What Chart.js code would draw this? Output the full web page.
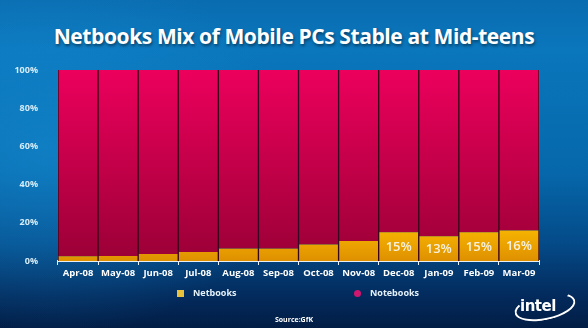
<!DOCTYPE html>
<html lang="en">
<head>
  <meta charset="UTF-8">
  <title>Netbooks Mix of Mobile PCs</title>
  <script src="https://cdn.jsdelivr.net/npm/chart.js"></script>
  <style>
    html, body {
      margin: 0;
      width: 588px;
      height: 328px;
      overflow: hidden;
    }
    body {
      position: relative;
      font-family: "Open Sans", Arial, sans-serif;
      background:
        radial-gradient(ellipse 240px 190px at 8% 45%, rgba(25,145,215,0.5), rgba(25,145,215,0) 100%),
        linear-gradient(to bottom, #0a6cb0 0%, #0a76bc 15%, #0668ab 52%, #044b89 74%, #032b5d 90%, #021d45 100%);
    }
    #title {
      position: absolute;
      top: 22px;
      left: 0;
      width: 588px;
      text-align: center;
      color: #fff;
      font-size: 21px;
      font-weight: bold;
      letter-spacing: -0.4px;
      text-shadow: 1px 2px 3px rgba(0,0,0,0.45);
    }
    #chartBox {
      position: absolute;
      left: 0;
      top: 0;
      width: 588px;
      height: 328px;
    }
    .legend {
      position: absolute;
      top: 286px;
      color: #e6f2fa;
      font-size: 9px;
      font-weight: bold;
    }
    .legend i {
      display: inline-block;
      width: 7px;
      height: 7px;
      margin-right: 9px;
      vertical-align: -1px;
    }
    #source {
      position: absolute;
      top: 315px;
      left: 0;
      width: 588px;
      text-align: center;
      color: #fff;
      font-size: 7px;
      font-weight: bold;
    }
    #logo {
      position: absolute;
      left: 520px;
      top: 297px;
      color: #fff;
      font-family: "DejaVu Sans", sans-serif;
      font-size: 15px;
      font-weight: bold;
      letter-spacing: -0.5px;
    }
    #logo span {
      position: absolute;
      left: -6px;
      top: -3px;
      width: 58px;
      height: 22px;
      border: 2px solid #fff;
      border-color: transparent #fff #fff #fff;
      border-radius: 50%;
      transform: rotate(-12deg);
    }
  </style>
</head>
<body>
  <div id="title">Netbooks Mix of Mobile PCs Stable at Mid-teens</div>
  <div id="chartBox"><canvas id="chart" width="588" height="328"></canvas></div>
  <div class="legend" style="left:177px"><i style="background:#e8c23a"></i>Netbooks</div>
  <div class="legend" style="left:354px"><i style="background:#d0166e;border-radius:50%"></i>Notebooks</div>
  <div id="source">Source:GfK</div>
  <div id="logo">intel<span></span></div>

  <script>
    const months = ["Apr-08", "May-08", "Jun-08", "Jul-08", "Aug-08", "Sep-08",
                    "Oct-08", "Nov-08", "Dec-08", "Jan-09", "Feb-09", "Mar-09"];
    const netbooks = [2.5, 2.6, 3.7, 4.7, 6.5, 6.5, 8.7, 10.5, 15, 13, 15, 16];
    const notebooks = netbooks.map(v => 100 - v);
    const netbookLabels = ["", "", "", "", "", "", "", "", "15%", "13%", "15%", "16%"];
    const yTicks = [0, 20, 40, 60, 80, 100];

    // vertical gradient over the chart area, stops given as [pos, colour]
    function vGradient(ctx, stops) {
      const area = ctx.chart.chartArea;
      if (!area) return stops[0][1];
      const g = ctx.chart.ctx.createLinearGradient(0, area.top, 0, area.bottom);
      stops.forEach(s => g.addColorStop(s[0], s[1]));
      return g;
    }

    // draws the % text inside the yellow part of the last bars
    const barText = {
      id: "barText",
      afterDatasetsDraw(chart) {
        const c = chart.ctx;
        const meta = chart.getDatasetMeta(0);
        c.save();
        c.fillStyle = "#f6f1dc";
        c.font = "600 13px 'Open Sans', Arial, sans-serif";
        c.textAlign = "center";
        c.textBaseline = "middle";
        meta.data.forEach((bar, i) => {
          if (!netbookLabels[i]) return;
          c.fillText(netbookLabels[i], bar.x, (bar.y + bar.base) / 2 + 1);
        });
        c.restore();
      }
    };

    new Chart(document.getElementById("chart"), {
      type: "bar",
      data: {
        labels: months,
        datasets: [
          {
            label: "Netbooks",
            data: netbooks,
            backgroundColor: ctx => vGradient(ctx, [[0, "#fcbc00"], [0.8, "#fcbc00"], [1, "#de9000"]]),
            borderColor: "#3a0418",
            borderWidth: { left: 1, right: 1 },
            borderSkipped: false,
            barPercentage: 1,
            categoryPercentage: 1
          },
          {
            label: "Notebooks",
            data: notebooks,
            backgroundColor: ctx => vGradient(ctx, [[0, "#ec005c"], [1, "#9a0036"]]),
            borderColor: "#3a0418",
            borderWidth: { left: 1, right: 1 },
            borderSkipped: false,
            barPercentage: 1,
            categoryPercentage: 1
          }
        ]
      },
      options: {
        responsive: false,
        animation: false,
        layout: { padding: { left: 8, right: 49, top: 70, bottom: 47 } },
        plugins: {
          legend: { display: false },
          tooltip: { enabled: false }
        },
        scales: {
          x: {
            stacked: true,
            afterFit: s => { s.height = 20; },
            grid: {
              offset: true,
              drawOnChartArea: false,
              drawTicks: true,
              tickLength: 4,
              color: "#e8f0f6"
            },
            border: { display: true, color: "#e8f0f6", width: 2 },
            ticks: {
              color: "#ffffff",
              padding: 3,
              autoSkip: false,
              maxRotation: 0,
              font: { family: "'Open Sans', Arial, sans-serif", size: 9.5, weight: "bold" }
            }
          },
          y: {
            stacked: true,
            min: 0,
            max: 100,
            afterFit: s => { s.width = 50; },
            afterBuildTicks: s => { s.ticks = yTicks.map(v => ({ value: v })); },
            grid: { display: false },
            border: { display: false },
            ticks: {
              color: "#d6ecf8",
              padding: 12,
              callback: v => v + "%",
              font: { family: "'Open Sans', Arial, sans-serif", size: 9, weight: "bold" }
            }
          }
        }
      },
      plugins: [barText]
    });
  </script>
</body>
</html>
